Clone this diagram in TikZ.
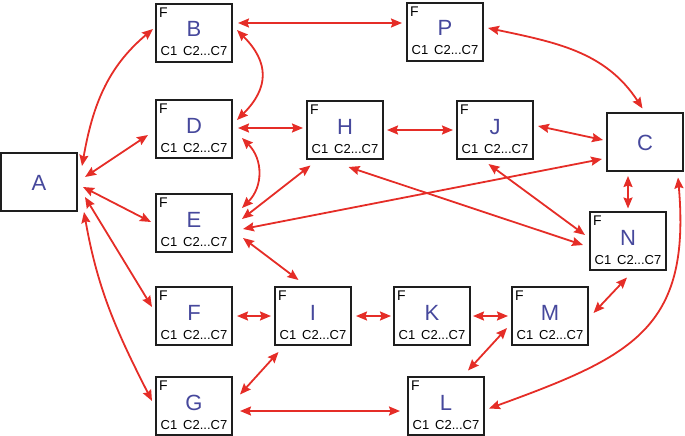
\documentclass[tikz,border=0pt]{standalone}
\usepackage{fontspec}
\setmainfont{Liberation Sans}
\usepackage{tikz}
\usetikzlibrary{positioning, arrows.meta, shapes}
\usepackage{xcolor}
\definecolor{linkred}{RGB}{229,45,39}
\definecolor{letterblue}{RGB}{70,72,156}
\definecolor{boxline}{RGB}{30,30,30}

\tikzset{
  box/.style={draw=boxline, line width=2pt, rectangle, minimum width=76pt, minimum height=58pt,
    inner sep=0pt, text=letterblue, font=\fontsize{22}{24}\selectfont, text height=16pt, text depth=0pt},
  agent/.style={box, text depth=8pt,
    label={[anchor=north west, xshift=4pt, yshift=-4pt, inner sep=0pt, text=black,
      text height=10pt, text depth=0pt, font=\fontsize{14}{15}\selectfont]north west:F},
    label={[anchor=base, yshift=7pt, inner sep=0pt, text=black,
      text height=9pt, text depth=0pt, font=\fontsize{13}{14}\selectfont]south:C1\hspace{0.45em}C2...C7}},
  link/.style={draw=linkred, line width=1.8pt, {Stealth[length=11pt,width=9pt,inset=1.5pt]}-{Stealth[length=11pt,width=9pt,inset=1.5pt]}},
}

\begin{document}
\begin{tikzpicture}[x=1pt, y=1pt]
  \useasboundingbox (0,0) rectangle (685,-436);

  % Ends
  \node[box] (A) at (39,-182) {A};
  \node[box] (C) at (645,-142) {C};

  % Left column
  \node[agent] (B) at (194,-33) {B};
  \node[agent] (D) at (194,-129) {D};
  \node[agent] (E) at (194,-223) {E};
  \node[agent] (F) at (194,-316) {F};
  \node[agent] (G) at (194,-406) {G};

  % Upper row
  \node[agent] (P) at (445,-32) {P};
  \node[agent] (H) at (345,-130) {H};
  \node[agent] (J) at (495,-130) {J};
  \node[agent] (N) at (628,-241) {N};

  % Lower row
  \node[agent] (I) at (313,-316) {I};
  \node[agent] (K) at (432,-316) {K};
  \node[agent] (M) at (550,-316) {M};
  \node[agent] (L) at (446,-406) {L};

  % Links from A
  \draw[link] ([xshift=4pt,yshift=16pt]A.east) to[out=80,in=220] ([xshift=-2pt,yshift=4pt]B.west);
  \draw[link] ([xshift=7pt,yshift=5pt]A.east) -- ([xshift=-7pt,yshift=-6pt]D.west);
  \draw[link] ([xshift=5pt,yshift=-5pt]A.east) -- ([xshift=-4pt,yshift=1pt]E.west);
  \draw[link] ([xshift=7pt,yshift=-15pt]A.east) -- ([xshift=-3pt,yshift=9pt]F.west);
  \draw[link] ([xshift=6pt,yshift=-30pt]A.east) to[out=-80,in=117] ([xshift=-3pt,yshift=5pt]G.west);

  % Links of the left column
  \draw[link] ([xshift=5pt,yshift=10pt]B.east) -- ([xshift=-4pt,yshift=9pt]P.west);
  \draw[link] ([xshift=4pt,yshift=3pt]B.east) to[out=-45,in=45,looseness=1.3] ([xshift=4pt,yshift=9pt]D.east);
  \draw[link] ([xshift=5pt,yshift=1pt]D.east) -- ([xshift=-3pt,yshift=2pt]H.west);
  \draw[link] ([xshift=9pt,yshift=-9pt]D.east) to[out=-45,in=45,looseness=1.1] ([xshift=9pt,yshift=15pt]E.east);
  \draw[link] ([xshift=9pt,yshift=4pt]E.east) -- ([xshift=4.5pt,yshift=-5.5pt]H.south west);
  \draw[link] ([xshift=10pt,yshift=-6pt]E.east) -- ([xshift=-4pt,yshift=-17pt]C.west);
  \draw[link] ([xshift=10pt,yshift=-15pt]E.east) -- ([xshift=-14.5pt,yshift=6pt]I.north);
  \draw[link] ([xshift=4pt]F.east) -- ([xshift=-3pt]I.west);
  \draw[link] ([xshift=7pt,yshift=-5pt]G.east) -- ([xshift=-7pt,yshift=-5pt]L.west);

  % Links of the upper row
  \draw[link] ([xshift=4pt,yshift=4pt]P.east) to[out=-12,in=123] ([xshift=-2.5pt,yshift=3.5pt]C.north);
  \draw[link] ([xshift=3pt]H.east) -- ([xshift=-3pt]J.west);
  \draw[link] ([xshift=4pt,yshift=4pt]J.east) -- ([xshift=-3pt,yshift=2pt]C.west);
  \draw[link] ([xshift=3.5pt,yshift=-7pt]H.south) -- ([xshift=-6pt,yshift=-4pt]N.west);
  \draw[link] ([xshift=-6.5pt,yshift=-4pt]J.south) -- ([xshift=-4pt,yshift=6pt]N.west);
  \draw[link] ([xshift=-17pt,yshift=-4pt]C.south) -- ([yshift=2.5pt]N.north);

  % Links of the lower row
  \draw[link] ([xshift=4pt]I.east) -- ([xshift=-2pt]K.west);
  \draw[link] ([xshift=2pt]K.east) -- ([xshift=-3pt]M.west);
  \draw[link] ([xshift=4.5pt,yshift=-6pt]I.south west) -- ([xshift=7pt,yshift=11.5pt]G.east);
  \draw[link] ([xshift=-4pt,yshift=-12pt]M.west) -- ([xshift=22pt,yshift=5.5pt]L.north);
  \draw[link] ([xshift=-1pt,yshift=-6.5pt]N.south) -- ([xshift=4.5pt,yshift=3pt]M.east);
  \draw[link] ([xshift=-6pt,yshift=-5.5pt]C.south east) to[out=-85,in=20,looseness=1.3] ([xshift=4pt,yshift=-2.5pt]L.east);
\end{tikzpicture}
\end{document}
